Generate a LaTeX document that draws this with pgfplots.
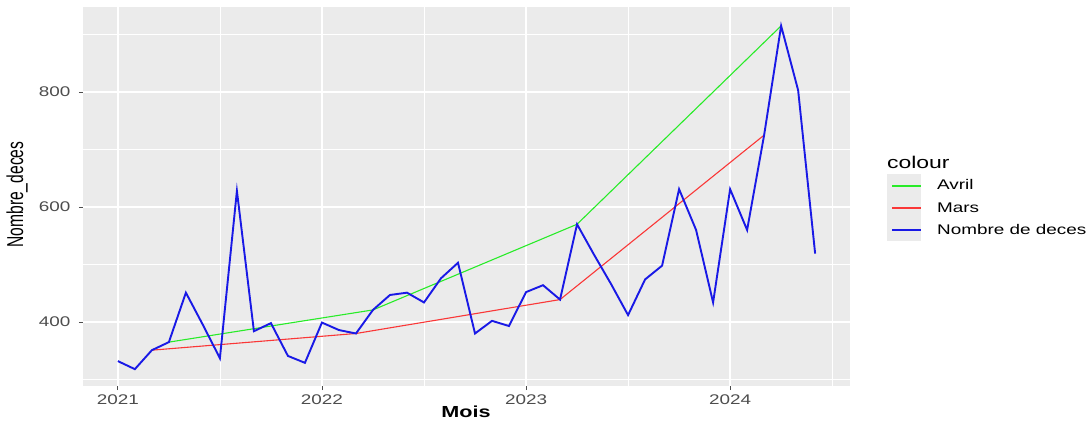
\documentclass[border=0pt]{standalone}
\usepackage{fontspec}
\setmainfont{Liberation Sans}[FakeStretch=1.35]
\newfontfamily\ylabfont{Liberation Sans}
\usepackage{pgfplots}
\pgfplotsset{compat=1.18}
\definecolor{ggbg}{RGB}{235,235,235}
\definecolor{ggtick}{RGB}{77,77,77}
\definecolor{cgreen}{RGB}{40,235,40}
\definecolor{cred}{RGB}{250,55,55}
\definecolor{cblue}{RGB}{25,25,230}
\begin{document}
\begin{tikzpicture}
\begin{axis}[
  scale only axis,
  width=767pt, height=379pt,
  clip mode=individual,
  xmin=-2.05, xmax=43.05,
  ymin=288.7, ymax=947.8,
  xtick={0,12,24,36},
  xticklabels={2021,2022,2023,2024},
  minor xtick={6,18,30,42},
  ytick={400,600,800},
  minor ytick={300,500,700,900},
  /pgf/number format/assume math mode=true,
  grid=both,
  major grid style={white, line width=1.4pt},
  minor grid style={white, line width=0.7pt},
  axis background/.style={fill=ggbg},
  separate axis lines,
  axis line style={draw=none},
  xtick pos=bottom, ytick pos=left,
  tick align=outside,
  major tick length=4pt,
  minor tick length=0pt,
  tick style={ggtick, line width=0.8pt},
  ticklabel style={font=\fontsize{14}{16}\selectfont, text=ggtick},
  xticklabel style={yshift=-1pt},
  yticklabel style={xshift=-5pt},
  xlabel={\textbf{Mois}},
  xlabel style={font=\fontsize{16}{18}\selectfont, at={(axis description cs:0.4994,-0.069)}, anchor=center},
  ylabel={\scalebox{0.68}[1]{\ylabfont\fontsize{23}{25}\selectfont Nombre\_deces}},
  ylabel style={at={(axis description cs:-0.086,0.505)}, anchor=center},
  legend style={at={(rel axis cs:1.0534,0.4697)}, anchor=west, draw=none, fill=none,
    inner sep=0pt, row sep=11pt,
    font=\fontsize{14}{16}\selectfont,
    nodes={inner sep=0pt, anchor=west},
    /tikz/every odd column/.append style={column sep=15pt}},
  legend cell align=left,
  legend image code/.code={\draw[#1, line width=2pt] (0pt,0pt) -- (29pt,0pt);},
]
\fill[ggbg] (rel axis cs:1.0482,0.5594) rectangle (rel axis cs:1.0926,0.3826);
\addplot[cgreen, line width=1.1pt] coordinates {(3,365) (15,421) (27,570) (39,915)};
\addlegendentry{Avril}
\addplot[cred, line width=1.1pt] coordinates {(2,351) (14,380) (26,439) (38,725)};
\addlegendentry{Mars}
\addplot[cblue, line width=1.9pt] coordinates {
(0,332) (1,318) (2,351) (3,365) (4,451) (5,395) (6,337) (7,628) (8,384) (9,398) (10,341) (11,329)
(12,399) (13,386) (14,380) (15,421) (16,447) (17,451) (18,434) (19,476) (20,503) (21,380) (22,402) (23,393)
(24,452) (25,464) (26,439) (27,570) (28,517) (29,466) (30,412) (31,474) (32,498) (33,631) (34,560) (35,434)
(36,631) (37,560) (38,725) (39,915) (40,803) (41,519)};
\addlegendentry{Nombre de deces}
\node[anchor=west, inner sep=0pt, font=\fontsize{17}{19}\selectfont] at (rel axis cs:1.048,0.591) {colour};
\end{axis}
\pgfresetboundingbox
\path ([shift={(-83pt,-37pt)}]current axis.south west) rectangle ([shift={(239pt,7pt)}]current axis.north east);
\end{tikzpicture}
\end{document}
